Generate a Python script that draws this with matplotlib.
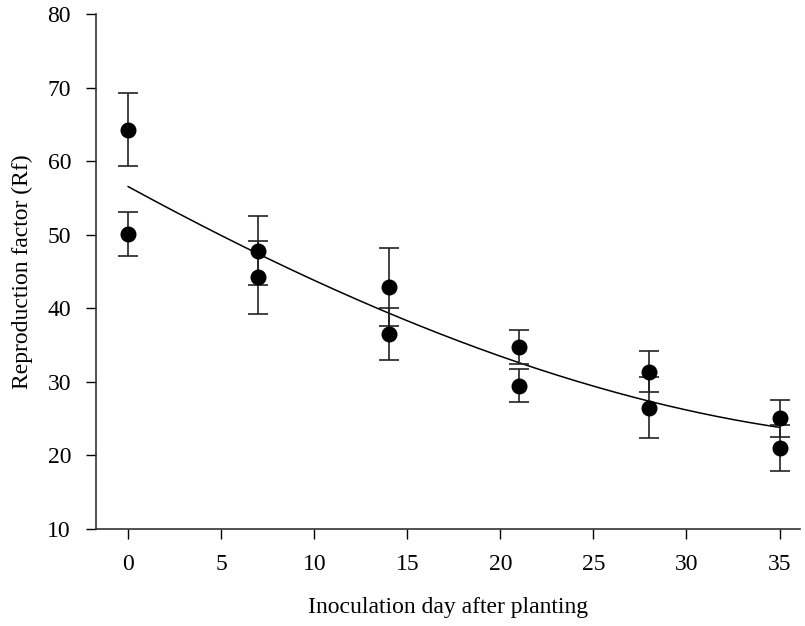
import numpy as np
import matplotlib.pyplot as plt

plt.rcParams['font.family'] = ['Liberation Serif', 'DejaVu Serif']

# inoculation days and the two Rf series (mean +/- error)
days = [0, 7, 14, 21, 28, 35]
rf_high = [64.3, 47.8, 42.9, 34.7, 31.4, 25.05]
err_high = [5.0, 4.7, 5.3, 2.3, 2.8, 2.5]
rf_low = [50.05, 44.2, 36.5, 29.45, 26.5, 21.0]
err_low = [3.0, 5.0, 3.5, 2.25, 4.1, 3.1]

# regression curve read at the sampling days
curve_days = [0, 7, 10.3, 14, 21, 28, 35]
curve_rf = [56.5, 47.6, 43.2, 39.4, 32.6, 27.4, 23.8]

fig = plt.figure(figsize=(8.05, 6.26), dpi=100)
ax = fig.add_axes([96 / 805, 97 / 626, (800 - 96) / 805, (529 - 14) / 626])

# smooth the read curve points for drawing
coef = np.polyfit(curve_days, curve_rf, 3)
xs = np.linspace(0, 35, 200)
ax.plot(xs, np.polyval(coef, xs), color='black', lw=1.1, zorder=2)

for vals, errs in [(rf_high, err_high), (rf_low, err_low)]:
    ax.errorbar(days, vals, yerr=errs, fmt='o', color='black', ms=10.5,
                ecolor='#222222', elinewidth=1.2, capsize=7, capthick=1.2, zorder=3)

ax.set_xlim(-1.73, 36.1)
ax.set_ylim(10, 80)
ax.set_xticks(range(0, 36, 5))
ax.set_yticks(range(10, 81, 10))
ax.spines['top'].set_visible(False)
ax.spines['right'].set_visible(False)
for s in ['left', 'bottom']:
    ax.spines[s].set_linewidth(1.2)
    ax.spines[s].set_color('#333333')
ax.tick_params(direction='out', length=7, width=1, labelsize=17, pad=11)

ax.set_xlabel('Inoculation day after planting', fontsize=17, labelpad=16)
ax.set_ylabel('Reproduction factor (Rf)', fontsize=17, labelpad=10)

fig.savefig('out.png', dpi=100)
